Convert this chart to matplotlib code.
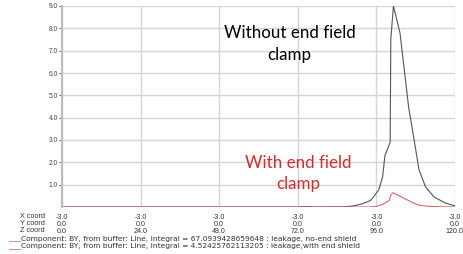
import matplotlib
matplotlib.use("Agg")
import matplotlib.pyplot as plt
from matplotlib.lines import Line2D

# ---- data ----
z_ticks = [0.0, 24.0, 48.0, 72.0, 96.0, 120.0]
x_coord = [-3.0] * 6
y_coord = [0.0] * 6
y_ticks = [1.0, 2.0, 3.0, 4.0, 5.0, 6.0, 7.0, 8.0, 9.0]

z_noend = [0, 72, 73, 76, 77, 86, 88, 90, 92, 94.3, 96.7, 97.9, 98.6, 100.2, 100.4, 101.2,
           103.2, 105.9, 106.5, 108, 109, 111, 113.6, 117, 120]
by_noend = [0, 0, 0.02, 0.02, 0, 0.01, 0.03, 0.08, 0.16, 0.3, 0.76, 1.35, 2.3, 2.9, 7.5, 9.0,
            7.8, 4.4, 3.9, 2.57, 1.67, 0.9, 0.45, 0.18, 0.05]

z_end = [0, 94, 96, 98, 100, 100.3, 101.1, 103, 105, 107, 109, 112, 116, 120]
by_end = [0, 0, 0.03, 0.12, 0.3, 0.52, 0.64, 0.5, 0.35, 0.2, 0.08, 0.03, 0.01, 0.0]

legend_labels = [
    "Component: BY, from buffer: Line, Integral = 67.0939428659648 : leakage, no-end shield",
    "Component: BY, from buffer: Line, Integral = 4.52425762113205 : leakage,with end shield",
]
annot_noend = "Without end field\nclamp"
annot_end = "With end field\nclamp"

W, H = 464, 254
fig = plt.figure(figsize=(W / 100, H / 100), dpi=100)
ax = fig.add_axes([62 / W, 1 - 207 / H, (455 - 62) / W, (207 - 6) / H])

grid_c = "#d6d6d6"
ax.set_xlim(0, 120)
ax.set_ylim(0, 9.0)
ax.set_yticks(y_ticks)
ax.set_yticklabels([f"{v:.1f}" for v in y_ticks])
ax.set_xticks(z_ticks)
ax.set_xticklabels([f"{a:.1f}\n{b:.1f}\n{c:.1f}" for a, b, c in zip(x_coord, y_coord, z_ticks)])
ax.grid(True, color=grid_c, linewidth=1.0)
ax.set_axisbelow(True)
for s in ["top", "right", "bottom"]:
    ax.spines[s].set_visible(False)
ax.spines["left"].set_color("#bdbdbd")
ax.spines["left"].set_linewidth(1.5)
ax.tick_params(axis="y", labelsize=4.8, colors="#444444", length=2, width=0.6, pad=1)
ax.tick_params(axis="x", labelsize=5.1, colors="#333333", length=0, pad=5)
for t in ax.get_xticklabels():
    t.set_linespacing(1.02)
    t.set_fontfamily("Liberation Sans")
for t in ax.get_yticklabels():
    t.set_fontfamily("Liberation Sans")

ax.plot(z_noend, by_noend, color="#555555", linewidth=0.8)
ax.plot(z_end, by_end, color="#d9666a", linewidth=0.8)

ax.text(69.5, 7.3, annot_noend, color="#000000", fontsize=12.2, family="Lato",
        ha="center", va="center", linespacing=1.42)
ax.text(72.0, 1.5, annot_end, color="#d42a2a", fontsize=12.2, family="Lato",
        ha="center", va="center", linespacing=1.42)

# row labels
for i, lab in enumerate(["X coord", "Y coord", "Z coord"]):
    fig.text(45 / W, 1 - (216 + 7.4 * i) / H, lab, fontsize=5.2, family="Liberation Sans",
             color="#333333", ha="right", va="center")

# legend rows
leg_colors = ["#aaaaaa", "#e08a8c"]
for i, (lab, c) in enumerate(zip(legend_labels, leg_colors)):
    yc = 1 - (238.5 + 7.6 * i) / H
    fig.add_artist(Line2D([9 / W, 20 / W], [yc - 2.5 / H, yc - 2.5 / H], color=c, linewidth=0.8,
                          transform=fig.transFigure))
    fig.text(21 / W, yc, lab, fontsize=5.4, family="DejaVu Sans", color="#333333",
             ha="left", va="center")

fig.savefig("out.png", dpi=100)
